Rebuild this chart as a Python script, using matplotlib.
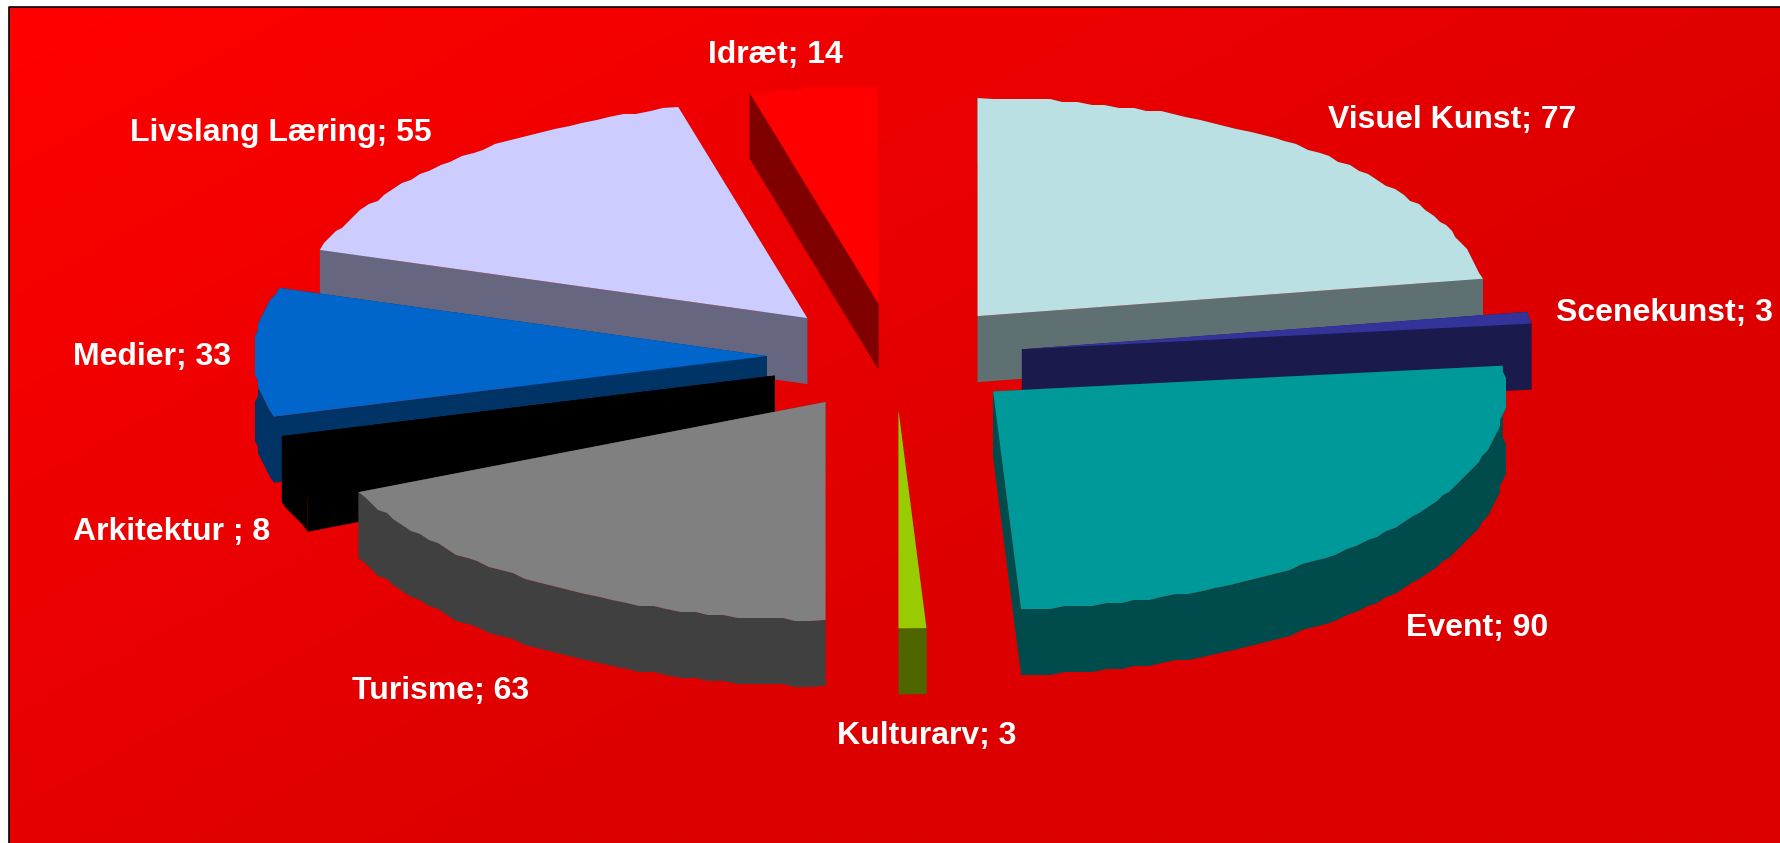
import numpy as np
import matplotlib
matplotlib.use('Agg')
import matplotlib.pyplot as plt
from matplotlib.patches import Polygon

# datos del grafico
names = ['Visuel Kunst', 'Scenekunst', 'Event', 'Kulturarv', 'Turisme',
         'Arkitektur ', 'Medier', 'Livslang Læring', 'Idræt']
values = [77, 3, 90, 3, 63, 8, 33, 55, 14]
top_colors = ['#BBE0E3', '#333399', '#009999', '#99CC00', '#808080',
              '#000000', '#0066CC', '#CCCCFF', '#FF0000']
side_colors = ['#5E7072', '#1A1A4C', '#004C4C', '#4F6600', '#404040',
               '#000000', '#003366', '#666680', '#800000']

# posicion de las etiquetas (pixeles)
label_x = [1452, 1664, 1477, 927, 441, 172, 152, 281, 775]
label_y = [120, 313, 628, 736, 691, 532, 357, 133, 55]

W, H = 1780, 843
CX, CY = 895, 357      # centro de la elipse
RX, RY = 513, 218      # radios
DEPTH = 66             # grosor
EXPLODE_X = 0.25
EXPLODE_Y = 0.245
JAG = 3                # borde dentado como en el original


def rim(a0, a1, ox, oy):
    n = max(2, int((a1 - a0) / 1.6) + 1)
    ang = np.radians(np.linspace(a0, a1, n))
    x = ox + RX * np.sin(ang)
    y = oy - RY * np.cos(ang)
    # redondear solo los puntos interiores para dejar el borde irregular
    x[1:-1] = np.round(x[1:-1] / JAG) * JAG
    y[1:-1] = np.round(y[1:-1] / JAG) * JAG
    return np.column_stack([x, y])


fig = plt.figure(figsize=(W / 100, H / 100), dpi=100, facecolor='white')
ax = fig.add_axes([0, 0, 1, 1])

# fondo degradado
gx, gy = np.meshgrid(np.linspace(0, 1, 400), np.linspace(0, 1, 200))
t = np.clip(0.86 * gx + 0.74 * gy, 0, 1)
grad = np.dstack([(255 - 35 * t) / 255, np.zeros_like(t), np.zeros_like(t)])
ax.imshow(grad, extent=[9, W, H, 7], aspect='auto', zorder=0, interpolation='bilinear')
ax.plot([9, 9, W], [H, 7, 7], color='black', lw=1.2, zorder=1)

# calcular los sectores
total = sum(values)
edges = np.concatenate([[0], np.cumsum(values)]) / total * 360
slices = []
for i in range(len(values)):
    mid = np.radians((edges[i] + edges[i + 1]) / 2)
    ox = CX + EXPLODE_X * RX * np.sin(mid)
    oy = CY - EXPLODE_Y * RY * np.cos(mid)
    slices.append((oy, ox, i))

# de atras hacia adelante
for oy, ox, i in sorted(slices):
    pts = rim(edges[i], edges[i + 1], ox, oy)
    apex = np.array([ox, oy])
    down = np.array([0, DEPTH])
    # paredes
    wall = np.vstack([pts, (pts + down)[::-1]])
    ax.add_patch(Polygon(wall, closed=True, fc=side_colors[i], ec='none', zorder=2))
    for p in (pts[0], pts[-1]):
        quad = np.array([apex, p, p + down, apex + down])
        ax.add_patch(Polygon(quad, closed=True, fc=side_colors[i], ec='none', zorder=2))
    # cara superior
    top = np.vstack([apex, pts])
    ax.add_patch(Polygon(top, closed=True, fc=top_colors[i], ec='none', zorder=2))

for i in range(len(names)):
    ax.text(label_x[i], label_y[i], f'{names[i]}; {values[i]}', color='white',
            fontsize=23, fontweight='bold', family='Liberation Sans',
            ha='center', va='center', zorder=5)

ax.set_xlim(0, W)
ax.set_ylim(H, 0)
ax.axis('off')
fig.savefig('out.png', dpi=100, facecolor='white')
